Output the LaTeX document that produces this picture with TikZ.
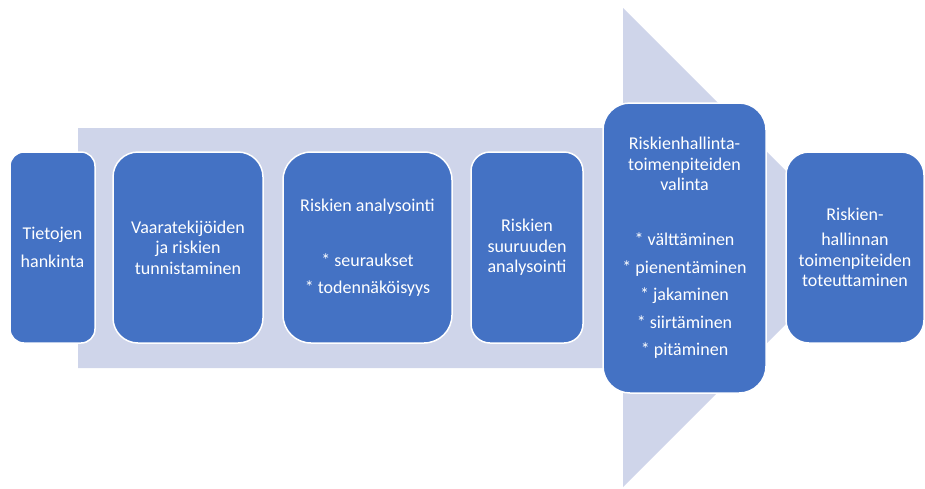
\documentclass[tikz,border=0pt]{standalone}
\usepackage{fontspec}
\setmainfont{Carlito}
\definecolor{phaseblue}{HTML}{4472C4}
\definecolor{arrowgrey}{HTML}{CFD5EA}

\begin{document}
\begin{tikzpicture}[line join=round,x=1pt,y=-1pt,
		phase/.style={draw=white,line width=1.5pt,fill=phaseblue,text=white,align=center,
			font=\fontsize{18}{20.5}\selectfont,inner sep=0pt,minimum height=191pt}]
		\useasboundingbox (0,0) rectangle (925,488);
		% background arrow
		\fill [arrowgrey] (78,128) -- (623,128) -- (623,8) -- (862.5,247.5) -- (623,487) -- (623,368) -- (78,368) -- cycle;
		% process steps
		\node [phase,rounded corners=14pt,minimum width=85pt] (tieto) at (52.5,247.5) {Tietojen\\[7.5pt]hankinta};
		\node [phase,rounded corners=25pt,minimum width=150pt] (tunnistus) at (188,247.5) {Vaaratekijöiden\\ja riskien\\tunnistaminen};
		\node [phase,rounded corners=28pt,minimum width=169pt] (analyysi) at (367.5,247.5) {Riskien analysointi\\[34pt]* seuraukset\\[6.5pt]* todennäköisyys};
		\node [phase,rounded corners=19pt,minimum width=112pt] (suuruus) at (527,247.5) {Riskien\\suuruuden\\analysointi};
		\node [phase,rounded corners=27pt,minimum width=163pt,minimum height=290pt] (valinta) at (684.5,248) {Riskienhallinta-\\toimenpiteiden\\valinta\\[34.5pt]* välttäminen\\[7pt]* pienentäminen\\[7pt]* jakaminen\\[7pt]* siirtäminen\\[7pt]* pitäminen};
		\node [phase,rounded corners=23pt,minimum width=138pt] (toteutus) at (855,247.5) {Riskien-\\[4.5pt]hallinnan\\toimenpiteiden\\toteuttaminen};
	\end{tikzpicture}
\end{document}
